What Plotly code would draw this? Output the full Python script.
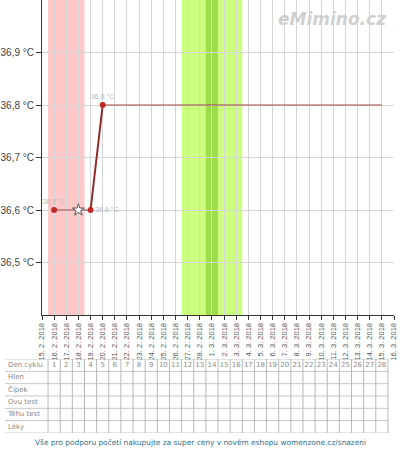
import plotly.graph_objects as go

# x axis: one category per day
day_labels = [
    "15. 2. 2018", "16. 2. 2018", "17. 2. 2018", "18. 2. 2018", "19. 2. 2018",
    "20. 2. 2018", "21. 2. 2018", "22. 2. 2018", "23. 2. 2018", "24. 2. 2018",
    "25. 2. 2018", "26. 2. 2018", "27. 2. 2018", "28. 2. 2018", "1. 3. 2018",
    "2. 3. 2018", "3. 3. 2018", "4. 3. 2018", "5. 3. 2018", "6. 3. 2018",
    "7. 3. 2018", "8. 3. 2018", "9. 3. 2018", "10. 3. 2018", "11. 3. 2018",
    "12. 3. 2018", "13. 3. 2018", "14. 3. 2018", "15. 3. 2018", "16. 3. 2018",
]

# measured temperatures
temp_days = ["16. 2. 2018", "19. 2. 2018", "20. 2. 2018"]
temps = [36.6, 36.6, 36.8]
temp_text = ["36,6 °C", "36,6 °C", "36,8 °C"]
temp_textpos = ["top center", "middle right", "top center"]

# marked day (star)
star_days = ["18. 2. 2018"]
star_temps = [36.6]

# thin connecting line across the gap, then extension after the last value
gap_days = ["16. 2. 2018", "18. 2. 2018", "19. 2. 2018"]
gap_temps = [36.6, 36.6, 36.6]
ext_days = ["20. 2. 2018", "15. 3. 2018"]
ext_temps = [36.8, 36.8]

# periods
period_days = ["16. 2. 2018", "17. 2. 2018", "18. 2. 2018"]
fertile_days = ["27. 2. 2018", "28. 2. 2018", "1. 3. 2018", "2. 3. 2018", "3. 3. 2018"]
ovulation_days = ["1. 3. 2018"]

y_ticks = [36.5, 36.6, 36.7, 36.8, 36.9]
y_ticktext = ["36,5 °C", "36,6 °C", "36,7 °C", "36,8 °C", "36,9 °C"]

# table under the chart
row_labels = ["Den cyklu", "Hlen", "Čípek", "Ovu test", "Těhu test", "Léky"]
cycle_days = list(range(1, 29))

fig = go.Figure()

# invisible trace so every day exists on the axis
fig.add_trace(go.Scatter(x=day_labels, y=[36.6] * len(day_labels), mode="markers",
                         marker=dict(opacity=0), hoverinfo="skip", showlegend=False))

fig.add_trace(go.Scatter(x=gap_days, y=gap_temps, mode="lines",
                         line=dict(color="#a04545", width=1), showlegend=False))
fig.add_trace(go.Scatter(x=ext_days, y=ext_temps, mode="lines",
                         line=dict(color="#a04545", width=1), showlegend=False))
fig.add_trace(go.Scatter(x=temp_days[1:], y=temps[1:], mode="lines",
                         line=dict(color="#8e2c2c", width=2), showlegend=False))
fig.add_trace(go.Scatter(x=temp_days, y=temps, mode="markers+text",
                         marker=dict(color="#c0282a", size=6),
                         text=temp_text, textposition=temp_textpos,
                         textfont=dict(family="Liberation Sans", size=7, color="#bbbbbb"),
                         showlegend=False))
fig.add_trace(go.Scatter(x=star_days, y=star_temps, mode="markers",
                         marker=dict(symbol="star", size=9, color="white",
                                     line=dict(color="#555555", width=1)),
                         showlegend=False))

# coloured bands
def band(days, color):
    i0 = day_labels.index(days[0])
    i1 = day_labels.index(days[-1])
    fig.add_shape(type="rect", xref="x", yref="y", x0=i0 - 0.5, x1=i1 + 0.5,
                  y0=36.4, y1=37.0, fillcolor=color, line_width=0, layer="below")

band(period_days, "#ffc8c8")
band(fertile_days, "#ccff80")
band(ovulation_days, "#9fdc4a")

# table drawn on its own axes
n_rows = len(row_labels)
left_edge = -3.05
last_edge = len(cycle_days) + 0.5
for r in range(n_rows + 1):
    fig.add_shape(type="line", xref="x2", yref="y2", x0=left_edge, x1=last_edge,
                  y0=r, y1=r, line=dict(color="#c8c8c8", width=1))
for c in range(len(cycle_days) + 1):
    fig.add_shape(type="line", xref="x2", yref="y2", x0=c + 0.5, x1=c + 0.5,
                  y0=0, y1=n_rows, line=dict(color="#b8b8b8", width=1))

fig.add_trace(go.Scatter(x=[left_edge + 0.25] * n_rows, y=[r + 0.5 for r in range(n_rows)],
                         xaxis="x2", yaxis="y2", mode="text", text=row_labels,
                         textposition="middle right",
                         textfont=dict(family="DejaVu Sans", size=7, color="#8a8a8a"),
                         showlegend=False, hoverinfo="skip"))
fig.add_trace(go.Scatter(x=cycle_days, y=[0.5] * len(cycle_days),
                         xaxis="x2", yaxis="y2", mode="text", text=[str(d) for d in cycle_days],
                         textposition="middle center",
                         textfont=dict(family="DejaVu Sans", size=7, color="#8a8a8a"),
                         showlegend=False, hoverinfo="skip"))

px_per_day = 352 / 29

fig.update_layout(
    width=400, height=450,
    margin=dict(l=0, r=0, t=0, b=0),
    paper_bgcolor="white", plot_bgcolor="white",
    xaxis=dict(domain=[42 / 400, 394 / 400], type="category",
               categoryorder="array", categoryarray=day_labels,
               range=[0, 29], tickangle=-90,
               tickfont=dict(family="Liberation Sans", size=7.5, color="#555555"),
               showgrid=True, gridcolor="#d6d6d6", gridwidth=1,
               showline=True, linecolor="#333333", linewidth=1,
               ticks="outside", ticklen=4, tickcolor="#333333",
               zeroline=False, fixedrange=True, automargin=False),
    yaxis=dict(domain=[0.3, 1.0], range=[36.4, 37.0],
               tickvals=y_ticks, ticktext=y_ticktext,
               tickfont=dict(family="Liberation Sans", size=10, color="#444444"),
               showgrid=True, gridcolor="#d6d6d6", gridwidth=1,
               showline=True, linecolor="#333333", linewidth=1,
               ticks="outside", ticklen=5, tickcolor="#333333",
               zeroline=False, fixedrange=True, automargin=False),
    xaxis2=dict(domain=[0, 1], range=[-42 / px_per_day, 358 / px_per_day],
                visible=False, fixedrange=True, anchor="y2"),
    yaxis2=dict(domain=[1 - 433 / 450, 1 - 359 / 450], range=[n_rows, 0],
                visible=False, fixedrange=True, anchor="x2"),
    annotations=[
        dict(text="<b><i>eMimino.cz</i></b>", xref="paper", yref="paper",
             x=0.97, y=0.985, xanchor="right", yanchor="top", showarrow=False,
             font=dict(family="DejaVu Sans", size=17, color="#cfcfcf")),
        dict(text="Vše pro podporu početí nakupujte za super ceny v novém eshopu womenzone.cz/snazeni",
             xref="paper", yref="paper", x=0.5, y=1 - 442 / 450,
             xanchor="center", yanchor="middle", showarrow=False,
             font=dict(family="DejaVu Sans", size=7.4, color="#2f6f8a")),
    ],
)

# the page has a default 8px body margin; drop it so the figure fills the window
fig.write_html("out.html", config={"displayModeBar": False},
               post_script="document.body.style.margin='0';")
